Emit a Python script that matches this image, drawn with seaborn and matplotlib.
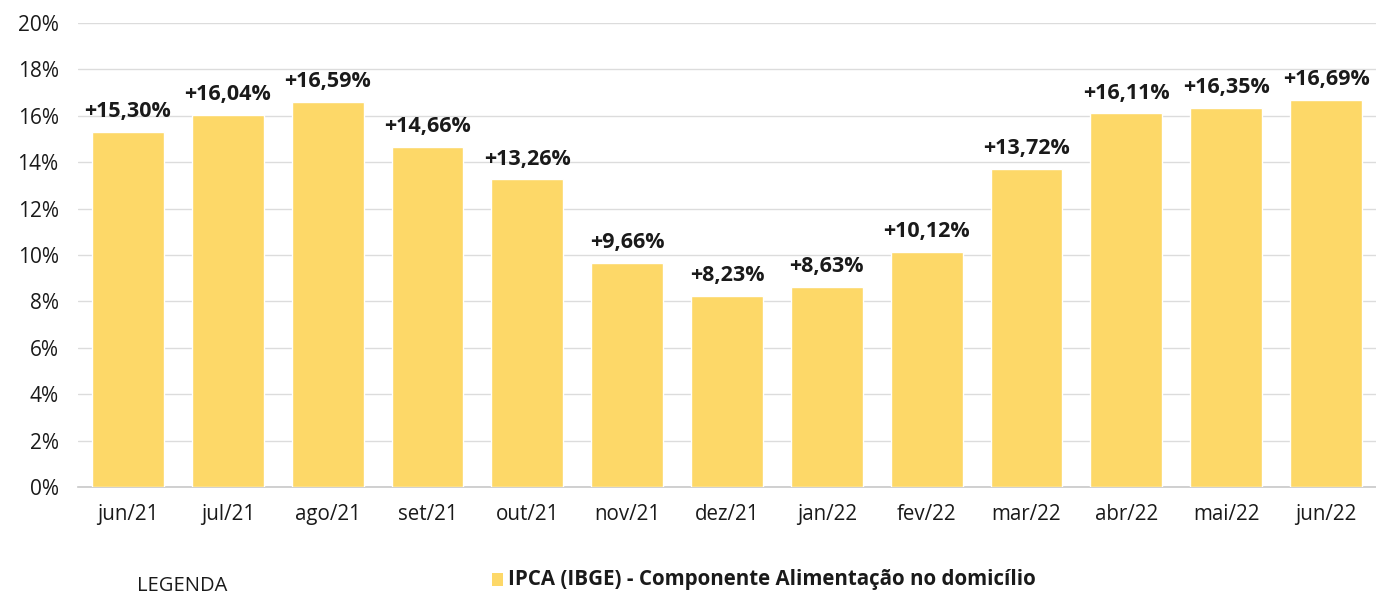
import matplotlib
matplotlib.use("Agg")
import matplotlib.pyplot as plt
import seaborn as sns
import numpy as np
import pandas as pd
from matplotlib.ticker import FuncFormatter, FixedLocator
from matplotlib.patches import Rectangle

meses = ["jun/21", "jul/21", "ago/21", "set/21", "out/21", "nov/21", "dez/21",
         "jan/22", "fev/22", "mar/22", "abr/22", "mai/22", "jun/22"]
variacao = [15.30, 16.04, 16.59, 14.66, 13.26, 9.66, 8.23,
            8.63, 10.12, 13.72, 16.11, 16.35, 16.69]
serie = "IPCA (IBGE) - Componente Alimentação no domicílio"

AMARELO = "#FDD868"
TEXTO = "#1a1a1a"

sns.set_theme(style="white")
plt.rcParams["font.family"] = ["Open Sans", "DejaVu Sans"]

df = pd.DataFrame({"mes": meses, "valor": variacao})

fig = plt.figure(figsize=(13.76, 5.96), dpi=100)
ax = fig.add_axes([0.0567, 0.1829, 0.9433, 0.7785])

sns.barplot(data=df, x="mes", y="valor", color=AMARELO, saturation=1,
            width=0.72, ax=ax, zorder=3)

ax.set_ylim(0, 20)
ax.set_xlim(-0.5, len(meses) - 0.5)
ax.set_yticks(np.arange(0, 21, 2))
ax.yaxis.set_major_formatter(FuncFormatter(lambda v, _: f"{v:.0f}%"))
ax.grid(axis="y", color="#dcdcdc", linewidth=1, zorder=0)
ax.set_axisbelow(True)
ax.set_xlabel("")
ax.set_ylabel("")

for s in ["top", "right", "left"]:
    ax.spines[s].set_visible(False)
ax.spines["bottom"].set_color("#c8c8c8")
ax.spines["bottom"].set_linewidth(1.2)

ax.tick_params(axis="y", length=0, pad=14, labelsize=15, labelcolor=TEXTO)
ax.tick_params(axis="x", which="major", length=0, pad=12, labelsize=14.8, labelcolor=TEXTO)
ax.xaxis.set_minor_locator(FixedLocator(np.arange(-0.5, len(meses), 1.0)))
ax.tick_params(axis="x", which="minor", length=8, width=1.2, color="#c8c8c8")

rotulos = ["+" + f"{v:.2f}".replace(".", ",") + "%" for v in variacao]
ax.bar_label(ax.containers[0], labels=rotulos, padding=7, fontsize=15.5,
             fontweight="bold", color=TEXTO)

# legenda na base
fig.text(137 / 1376, 1 - 586 / 596, "LEGENDA", fontsize=14.5, color=TEXTO,
         ha="left", va="center")
fig.patches.append(Rectangle((492 / 1376, 1 - 586 / 596), 11 / 1376, 13 / 596,
                             transform=fig.transFigure, facecolor=AMARELO,
                             edgecolor="none"))
fig.text(508 / 1376, 1 - 579 / 596, serie, fontsize=14.8, fontweight="bold",
         color=TEXTO, ha="left", va="center")

fig.savefig("out.png", dpi=100, facecolor="white")
